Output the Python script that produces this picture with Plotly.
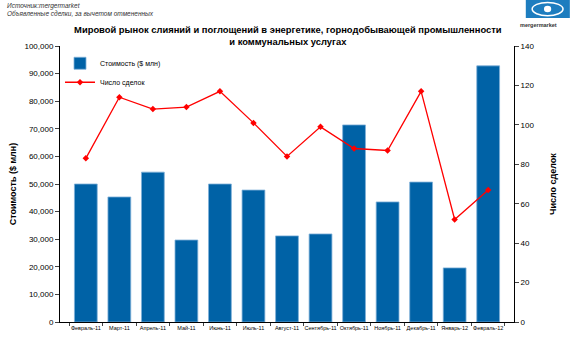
import plotly.graph_objects as go

months = ["Февраль-11", "Март-11", "Апрель-11", "Май-11", "Июнь-11", "Июль-11", "Август-11",
          "Сентябрь-11", "Октябрь-11", "Ноябрь-11", "Декабрь-11", "Январь-12", "Февраль-12"]
value_musd = [50000, 45300, 54300, 29700, 50000, 47800, 31200, 31900, 71400, 43500, 50700, 19600, 92800]
deals = [83, 114, 108, 109, 117, 101, 84, 99, 88, 87, 117, 52, 67]

fig = go.Figure()
fig.add_trace(go.Bar(x=months, y=value_musd, name="Стоимость ($ млн)",
                     marker=dict(color="#0062A6", line=dict(color="#7FB0D8", width=0.8)),
                     width=0.68))
fig.add_trace(go.Scatter(x=months, y=deals, name="Число сделок", yaxis="y2",
                         mode="lines+markers", line=dict(color="#FF0000", width=1.3),
                         marker=dict(symbol="diamond", size=5, color="#FF0000")))

fig.update_layout(
    width=570, height=347,
    margin=dict(l=58, r=56, t=46, b=25),
    paper_bgcolor="white", plot_bgcolor="white",
    font=dict(family="Liberation Sans, Arial", size=8, color="#000"),
    showlegend=True,
    legend=dict(x=0.0, y=0.99, xanchor="left", yanchor="top", bgcolor="rgba(0,0,0,0)",
                font=dict(size=7), tracegroupgap=17, itemwidth=30),
    xaxis=dict(showline=True, linecolor="#000", linewidth=1, ticks="outside", ticklen=3,
               tickson="boundaries", tickfont=dict(size=5.5), tickangle=0, showgrid=False),
    yaxis=dict(range=[0, 100000], dtick=10000, tickformat=",d", showline=True, linecolor="#000",
               ticks="outside", ticklen=4, showgrid=False, zeroline=False,
               title=dict(text="<b>Стоимость ($ млн)</b>", font=dict(size=9), standoff=6),
               tickfont=dict(size=8)),
    yaxis2=dict(range=[0, 140], dtick=20, overlaying="y", side="right", showline=True,
                linecolor="#000", ticks="outside", ticklen=4, showgrid=False, zeroline=False,
                title=dict(text="<b>Число сделок</b>", font=dict(size=9), standoff=16),
                tickfont=dict(size=8)),
    title=dict(text="<b>Мировой рынок слияний и поглощений в энергетике, горнодобывающей промышленности<br>и коммунальных услугах</b>",
               x=0.505, xanchor="center", y=0.905, yanchor="top", font=dict(size=9.4)),
)

fig.add_annotation(text="<i>Источник:mergermarket<br>Объявленные сделки, за вычетом отмененных</i>",
                   xref="paper", yref="paper", x=-0.121, y=1.165, xanchor="left", yanchor="top",
                   showarrow=False, align="left", font=dict(size=6.5, color="#333"))

# logo
fig.add_shape(type="rect", xref="paper", yref="paper", x0=1.026, x1=1.123, y0=1.101, y1=1.167,
              fillcolor="#1D7DBF", line=dict(width=0))
fig.add_shape(type="circle", xref="paper", yref="paper", x0=1.040, x1=1.108, y0=1.110, y1=1.158,
              line=dict(color="white", width=1.5))
fig.add_shape(type="circle", xref="paper", yref="paper", x0=1.066, x1=1.082, y0=1.122, y1=1.146,
              fillcolor="white", line=dict(width=0))
fig.add_annotation(text="<b>mergermarket</b>", xref="paper", yref="paper", x=1.053, y=1.095,
                   xanchor="center", yanchor="top", showarrow=False, font=dict(size=5.5, color="#333"))

fig.write_html("out.html")
